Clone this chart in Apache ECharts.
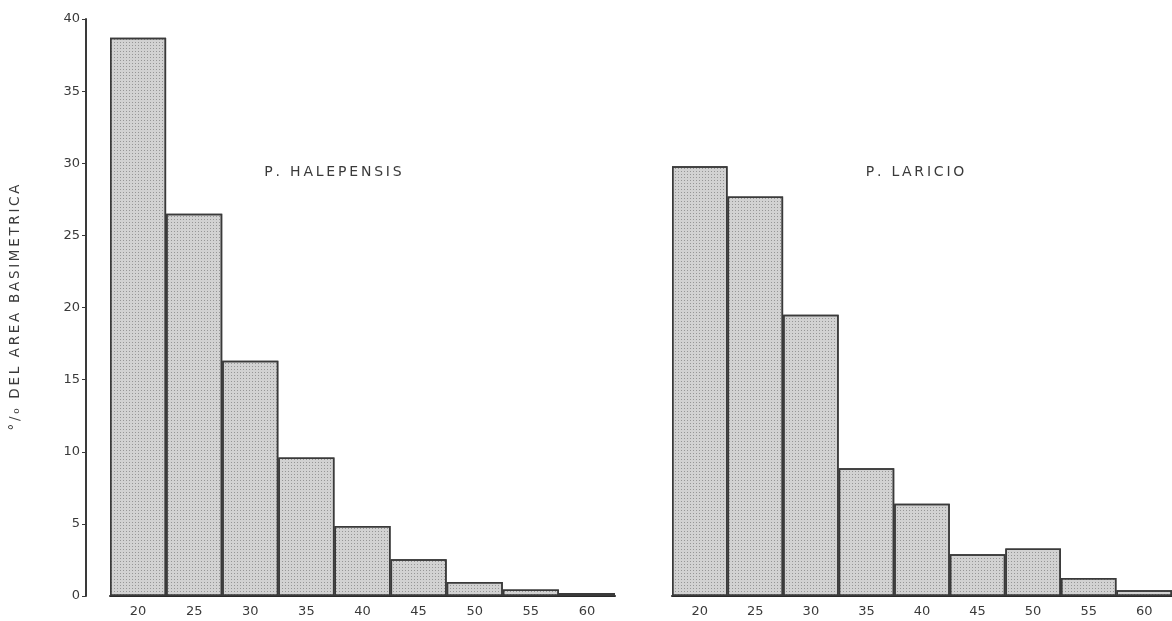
<!DOCTYPE html>
<html>
<head>
<meta charset="utf-8">
<script src="https://cdn.jsdelivr.net/npm/echarts@6/dist/echarts.min.js"></script>
<style>html,body{margin:0;padding:0;background:#fff}#c{width:1172px;height:621px}</style>
</head>
<body>
<div id="c"></div>
<script>
const categories = ['20','25','30','35','40','45','50','55','60'];
const halepensis = [38.7, 26.5, 16.3, 9.6, 4.85, 2.55, 0.97, 0.45, 0.2];
const laricio = [29.8, 27.7, 19.5, 8.85, 6.4, 2.9, 3.3, 1.25, 0.4];
const yTicks = [0, 5, 10, 15, 20, 25, 30, 35, 40];
const panelTitles = ['P. HALEPENSIS', 'P. LARICIO'];
const yTitle = '°/₀ DEL AREA BASIMETRICA';

const font = 'DejaVu Sans';
const ink = '#3a3a3a';
const sp = s => s.split('').join('\u2009');
const barStyle = {
  color: '#d2d2d2',
  borderColor: '#3a3a3a',
  borderWidth: 1.5,
  decal: {
    symbol: 'rect',
    symbolSize: 1,
    color: 'rgba(60,60,60,0.4)',
    dashArrayX: [1, 2],
    dashArrayY: [1, 2]
  }
};

const chart = echarts.init(document.getElementById('c'), null, {renderer: 'canvas'});
function xAxis(gi) {
  return {
    type: 'category', gridIndex: gi, data: categories, boundaryGap: true,
    axisLine: {show: true, lineStyle: {color: '#2a2a2a', width: 2}},
    axisTick: {show: false},
    axisLabel: {color: ink, fontFamily: font, fontSize: 13, margin: 9}
  };
}
function yAxis(gi, show) {
  return {
    type: 'value', gridIndex: gi, min: yTicks[0], max: yTicks[yTicks.length - 1], interval: 5,
    show: show, offset: show ? 24 : 0,
    name: show ? sp(yTitle) : '', nameLocation: 'middle', nameGap: 64, nameRotate: 90,
    nameTextStyle: {color: ink, fontFamily: font, fontSize: 13.5},
    axisLine: {show: true, lineStyle: {color: '#3a3a3a', width: 2}},
    axisTick: {show: true, length: 4, lineStyle: {color: '#3a3a3a'}},
    axisLabel: {color: ink, fontFamily: font, fontSize: 13, margin: 6},
    splitLine: {show: false}
  };
}
chart.setOption({
  animation: false,
  backgroundColor: '#fff',
  title: [
    {text: sp(panelTitles[0]), left: 328, top: 160, textAlign: 'center',
     textStyle: {color: ink, fontFamily: font, fontSize: 14, fontWeight: 'normal'}},
    {text: sp(panelTitles[1]), left: 910, top: 160, textAlign: 'center',
     textStyle: {color: ink, fontFamily: font, fontSize: 14, fontWeight: 'normal'}}
  ],
  grid: [
    {left: 110, top: 19, width: 505, bottom: 25},
    {left: 672, top: 19, width: 504, bottom: 25}
  ],
  xAxis: [xAxis(0), xAxis(1)],
  yAxis: [yAxis(0, true), yAxis(1, false)],
  series: [
    {type: 'bar', xAxisIndex: 0, yAxisIndex: 0, data: halepensis, barCategoryGap: '0%', itemStyle: barStyle},
    {type: 'bar', xAxisIndex: 1, yAxisIndex: 1, data: laricio, barCategoryGap: '0%', itemStyle: barStyle}
  ]
});
</script>
</body>
</html>
